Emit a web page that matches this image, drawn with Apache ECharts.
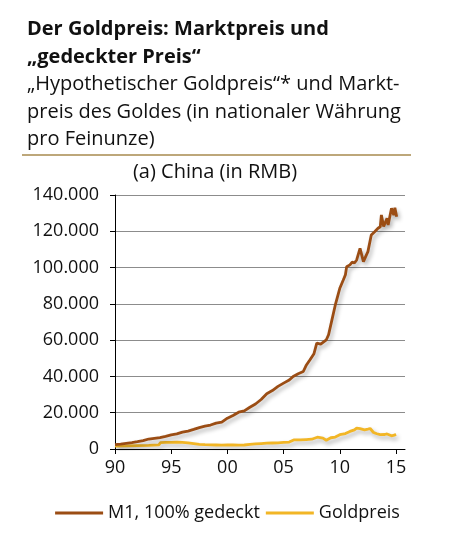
<!DOCTYPE html>
<html>
<head>
<meta charset="utf-8">
<script src="https://cdn.jsdelivr.net/npm/echarts@6/dist/echarts.min.js"></script>
<style>
html,body{margin:0;padding:0;background:#fff;}
#chart{width:455px;height:535px;}
</style>
</head>
<body>
<div id="chart"></div>
<script>
const titleText = 'Der Goldpreis: Marktpreis und\n\u201Egedeckter Preis\u201C';
const subtitleText = '\u201EHypothetischer Goldpreis\u201C* und Markt-\npreis des Goldes (in nationaler W\u00E4hrung\npro Feinunze)';
const panelText = '(a) China (in RMB)';
const seriesNames = ['M1, 100% gedeckt', 'Goldpreis'];
const xTicks = [1990, 1995, 2000, 2005, 2010, 2015];

const m1Years = [1990.0,1990.5,1991.0,1991.5,1992.0,1992.5,1993.0,1993.5,1994.0,1994.5,
  1995.0,1995.5,1996.0,1996.5,1997.0,1997.5,1998.0,1998.5,1999.0,1999.5,
  2000.0,2000.5,2001.0,2001.5,2002.0,2002.5,2003.0,2003.5,2004.0,2004.5,
  2005.0,2005.5,2005.85,2006.3,2006.75,2007.0,2007.35,2007.7,2007.95,2008.3,
  2008.8,2009.0,2009.3,2009.6,2009.8,2010.0,2010.3,2010.5,2010.61,2010.9,
  2011.1,2011.3,2011.5,2011.8,2012.1,2012.5,2012.8,2013.1,2013.4,2013.6,
  2013.7,2013.9,2014.2,2014.3,2014.6,2014.8,2014.9,2015.06];
const m1Values = [2400,2700,3100,3500,4000,4600,5500,5900,6300,7000,
  7800,8300,9300,9900,10800,11800,12600,13200,14300,14800,
  17000,18500,20300,21000,23000,24800,27300,30500,32200,34500,
  36300,38000,40000,41500,42700,46000,49200,52500,58400,57800,
  60200,63000,71200,79400,84000,88600,93000,96000,100500,101500,
  103000,102500,104200,110600,103300,108800,118000,119800,121700,122500,
  129000,122600,127200,123500,132700,129000,133000,128000];

const goldYears = [1990.0,1991.0,1992.0,1993.0,1993.9,1994.05,1994.5,1995.0,1995.5,1996.0,
  1996.5,1997.0,1997.5,1998.0,1998.5,1999.0,1999.5,2000.0,2000.5,2001.0,
  2001.5,2002.0,2002.5,2003.0,2003.5,2004.0,2004.5,2005.0,2005.5,2005.9,
  2006.5,2007.0,2007.5,2008.0,2008.5,2008.8,2009.2,2009.6,2010.0,2010.5,
  2010.9,2011.3,2011.5,2011.8,2012.2,2012.5,2012.7,2013.0,2013.3,2013.6,
  2014.0,2014.2,2014.6,2014.85,2015.0];
const goldValues = [1600,1700,1900,2000,2300,3500,3700,3700,3800,3600,
  3400,3000,2600,2400,2300,2200,2100,2200,2200,2100,
  2200,2600,2800,3000,3200,3300,3400,3600,3800,5000,
  5000,5200,5400,6500,6000,4800,6200,6600,7900,8500,
  9700,10500,11500,11200,10600,11000,11300,9100,8400,7900,
  8000,8300,7300,7600,8100];

const m1Data = m1Years.map((y, i) => [y, m1Values[i]]);
const goldData = goldYears.map((y, i) => [y, goldValues[i]]);

const FONT = 'Open Sans';
const chart = echarts.init(document.getElementById('chart'), null, {renderer: 'canvas'});
const shadow = {shadowColor: 'rgba(0,0,0,0.3)', shadowBlur: 4, shadowOffsetX: 2, shadowOffsetY: 3};

chart.setOption({
  animation: false,
  backgroundColor: '#fff',
  textStyle: {fontFamily: FONT},
  title: [
    {text: titleText, left: 22, top: 10,
     textStyle: {fontFamily: FONT, fontSize: 20, fontWeight: 'bold', color: '#111', lineHeight: 28}},
    {text: subtitleText, left: 22, top: 66,
     textStyle: {fontFamily: FONT, fontSize: 20, fontWeight: 'normal', color: '#111', lineHeight: 27.5}},
    {text: panelText, left: 210, top: 157, textAlign: 'center',
     textStyle: {fontFamily: FONT, fontSize: 20, fontWeight: 'normal', color: '#111'}}
  ],
  graphic: [
    {type: 'line', shape: {x1: 22, y1: 155, x2: 411, y2: 155},
     style: {stroke: '#bda77a', lineWidth: 2}}
  ],
  legend: {
    bottom: 8, left: 'center',
    itemWidth: 48, itemHeight: 3, itemGap: 6,
    icon: 'rect',
    textStyle: {fontFamily: FONT, fontSize: 18, color: '#111'},
    data: seriesNames
  },
  grid: {left: 115, right: 50, top: 195, bottom: 86, containLabel: false},
  xAxis: {
    type: 'value', min: 1990, max: 2015.8, interval: 5,
    axisLine: {show: true, lineStyle: {color: '#000', width: 1}},
    axisTick: {show: true, length: 5, lineStyle: {color: '#000'}, customValues: xTicks},
    axisLabel: {fontFamily: FONT, fontSize: 18, color: '#111', margin: 10, customValues: xTicks,
      formatter: v => String(Math.round(v) % 100).padStart(2, '0')},
    splitLine: {show: false}
  },
  yAxis: {
    type: 'value', min: 0, max: 140000, interval: 20000,
    axisLine: {show: true, lineStyle: {color: '#000', width: 1}},
    axisTick: {show: true, length: 5, lineStyle: {color: '#000'}},
    axisLabel: {fontFamily: FONT, fontSize: 18, color: '#111', margin: 16,
      formatter: v => String(v).replace(/\B(?=(\d{3})+(?!\d))/g, '.')},
    splitLine: {show: true, lineStyle: {color: '#8c8c8c', width: 1}}
  },
  series: [
    {name: seriesNames[0], type: 'line', data: m1Data, showSymbol: false, symbol: 'none',
     color: '#9b4d14', lineStyle: Object.assign({color: '#9b4d14', width: 2.8}, shadow), z: 3},
    {name: seriesNames[1], type: 'line', data: goldData, showSymbol: false, symbol: 'none',
     color: '#f2b626', lineStyle: Object.assign({color: '#f2b626', width: 2.8}, shadow), z: 2}
  ]
});
</script>
</body>
</html>
